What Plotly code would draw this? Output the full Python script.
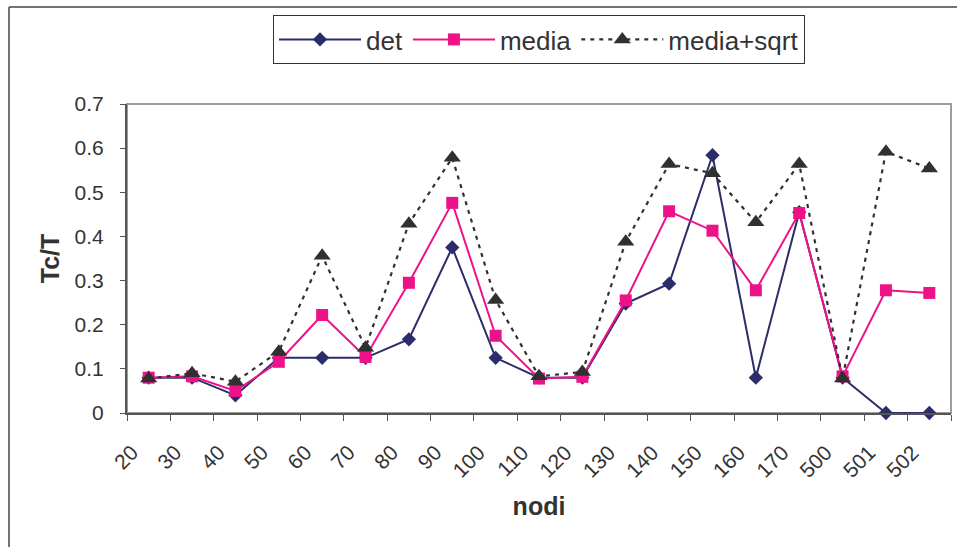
import plotly.graph_objects as go

categories = ["20", "30", "40", "50", "60", "70", "80", "90", "100", "110",
              "120", "130", "140", "150", "160", "170", "500", "501", "502"]
det = [0.08, 0.08, 0.04, 0.125, 0.125, 0.125, 0.167, 0.375, 0.125, 0.08,
       0.08, 0.248, 0.293, 0.584, 0.08, 0.455, 0.08, 0.0, 0.0]
media = [0.08, 0.083, 0.05, 0.116, 0.222, 0.127, 0.295, 0.476, 0.175, 0.078,
         0.082, 0.255, 0.457, 0.413, 0.278, 0.453, 0.083, 0.278, 0.272]
media_sqrt = [0.078, 0.09, 0.071, 0.139, 0.356, 0.148, 0.429, 0.578, 0.256, 0.083,
              0.093, 0.388, 0.564, 0.543, 0.432, 0.564, 0.078, 0.592, 0.554]
y_ticks = [0, 0.1, 0.2, 0.3, 0.4, 0.5, 0.6, 0.7]
y_tick_labels = ["0", "0.1", "0.2", "0.3", "0.4", "0.5", "0.6", "0.7"]

n = len(categories)
xpos = [i + 0.5 for i in range(n)]  # points sit between tick marks (Excel style)

FONT = "Liberation Sans, Arial, sans-serif"
C_DET = "#2b2d6b"
C_MEDIA = "#ee1289"
C_SQRT = "#303030"

fig = go.Figure()
fig.add_trace(go.Scatter(
    x=xpos, y=det, name="det", mode="lines+markers",
    line=dict(color=C_DET, width=2),
    marker=dict(symbol="diamond", size=11, color=C_DET),
    cliponaxis=False))
fig.add_trace(go.Scatter(
    x=xpos, y=media, name="media", mode="lines+markers",
    line=dict(color=C_MEDIA, width=2),
    marker=dict(symbol="square", size=12, color=C_MEDIA),
    cliponaxis=False))
fig.add_trace(go.Scatter(
    x=xpos, y=media_sqrt, name="media+sqrt", mode="lines+markers",
    line=dict(color=C_SQRT, width=2.2, dash="4px,5px"),
    marker=dict(symbol="triangle-up", size=15, color=C_SQRT),
    cliponaxis=False))

PLOT_H = 413 - 104
PLOT_W = 951 - 127

fig.update_layout(
    width=957, height=547,
    margin=dict(l=127, r=6, t=104, b=134, autoexpand=False),
    paper_bgcolor="white", plot_bgcolor="white",
    font=dict(family=FONT, color="#333333", size=21),
    showlegend=True,
    legend=dict(
        orientation="h", x=0.5, xanchor="center",
        y=1 + (104 - 15) / PLOT_H, yanchor="top",
        font=dict(size=26, family=FONT, color="#333333"),
        bgcolor="white", bordercolor="#333333", borderwidth=1,
        itemwidth=82, tracegroupgap=0,
    ),
    xaxis=dict(
        range=[0, n], showgrid=False, zeroline=False,
        showline=True, linecolor="#555555", linewidth=2,
        tickvals=list(range(n + 1)), ticktext=categories + [""],
        ticks="outside", ticklen=6, tickcolor="#555555", tickwidth=1,
        tickangle=-45,
        tickfont=dict(size=21, family=FONT, color="#333333"),
        ticklabelstandoff=11, ticklabelshift=5,
        title=dict(text="<b>nodi</b>", font=dict(size=25, family=FONT, color="#333333"),
                   standoff=17),
    ),
    yaxis=dict(
        range=[0, 0.7], showgrid=False, zeroline=False,
        showline=True, linecolor="#555555", linewidth=2,
        tickvals=y_ticks, ticktext=y_tick_labels,
        ticks="outside", ticklen=5, tickcolor="#555555",
        tickfont=dict(size=21, family=FONT, color="#333333"),
        ticklabelstandoff=12,
        title=dict(text="<b>Tc/T</b>", font=dict(size=25, family=FONT, color="#333333"),
                   standoff=8),
    ),
    shapes=[
        dict(type="rect", xref="paper", yref="paper", x0=0, x1=1, y0=0, y1=1,
             line=dict(color="#a09a9a", width=2), layer="below"),
        dict(type="line", xref="paper", yref="paper",
             x0=-118 / PLOT_W, x1=-118 / PLOT_W, y0=-134 / PLOT_H, y1=(PLOT_H + 97) / PLOT_H,
             line=dict(color="#444444", width=1.5)),
        dict(type="line", xref="paper", yref="paper",
             x0=-118 / PLOT_W, x1=1.1, y0=(PLOT_H + 97) / PLOT_H, y1=(PLOT_H + 97) / PLOT_H,
             line=dict(color="#444444", width=1.5)),
    ],
)

fig.write_html("out.html", config={"displayModeBar": False},
               post_script="document.body.style.margin='0px';")
